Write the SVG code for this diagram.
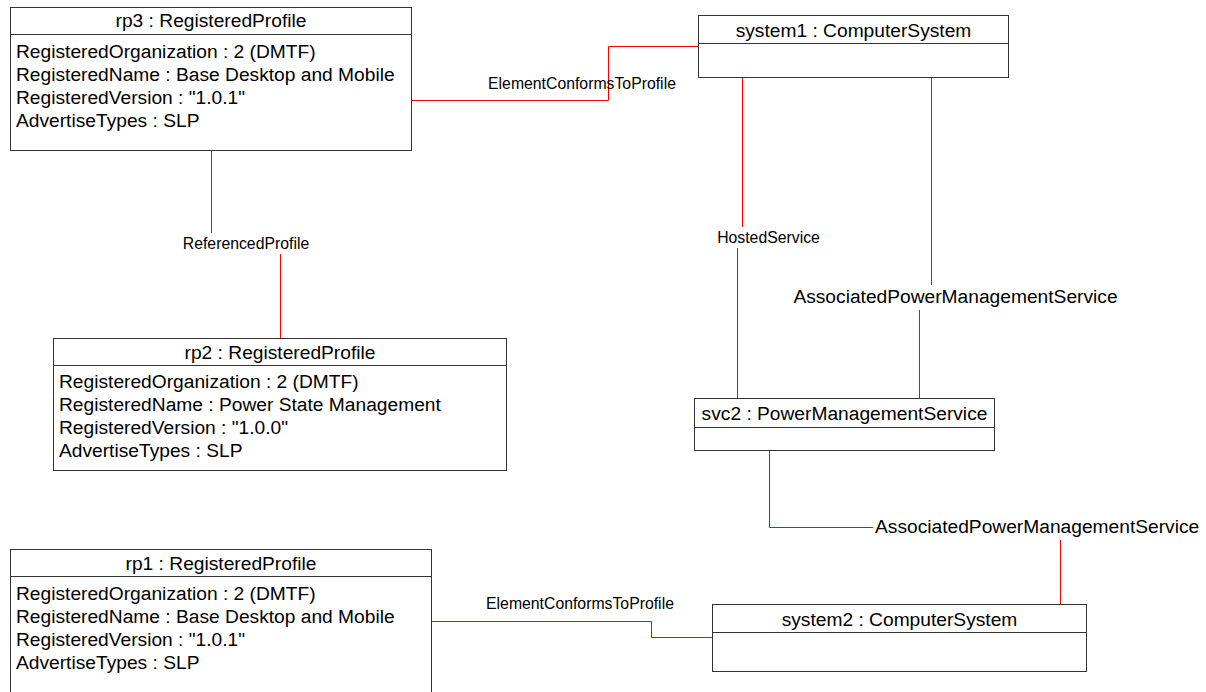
<svg xmlns="http://www.w3.org/2000/svg" width="1206" height="692" viewBox="0 0 1206 692">
<style>
.box{fill:#fff;stroke:#333;stroke-width:1}
.div{stroke:#333;stroke-width:1}
.t{font-family:"Liberation Sans",Arial,sans-serif;font-size:19.2px;fill:#000}
.c{text-anchor:middle}
.s{font-family:"Liberation Sans",Arial,sans-serif;font-size:15.8px;fill:#000}
.conn{fill:none;stroke:#ff0000;stroke-width:1}
</style>
<rect width="1206" height="692" fill="#fff"/>
<g id="connectors">
<polyline class="conn" points="412,100.5 608.5,100.5 608.5,46.5 698,46.5"/>
<text class="s c" x="582" y="89">ElementConformsToProfile</text>
<line class="conn" x1="211.5" y1="150.5" x2="211.5" y2="233"/>
<text class="s c" x="246" y="249">ReferencedProfile</text>
<line class="conn" x1="280.5" y1="254" x2="280.5" y2="338"/>
<line class="conn" x1="742.5" y1="78" x2="742.5" y2="227"/>
<text class="s c" x="768.5" y="243">HostedService</text>
<line class="conn" x1="737.5" y1="248" x2="737.5" y2="398"/>
<line class="conn" x1="931.5" y1="78" x2="931.5" y2="285"/>
<text class="t c" x="955.5" y="303">AssociatedPowerManagementService</text>
<line class="conn" x1="919.5" y1="310" x2="919.5" y2="398"/>
<polyline class="conn" points="769.5,451 769.5,527.5 873,527.5"/>
<text class="t" x="875" y="533">AssociatedPowerManagementService</text>
<line class="conn" x1="1060.5" y1="540" x2="1060.5" y2="604"/>
<polyline class="conn" points="432,621.5 651.5,621.5 651.5,637.5 712,637.5"/>
<text class="s c" x="580" y="609">ElementConformsToProfile</text>
</g>
<g id="rp3">
<rect class="box" x="10.5" y="7.5" width="401" height="143"/>
<line class="div" x1="10.5" y1="34.5" x2="411.5" y2="34.5"/>
<text class="t c" x="211" y="27">rp3 : RegisteredProfile</text>
<text class="t" x="16" y="58">RegisteredOrganization : 2 (DMTF)</text>
<text class="t" x="16" y="81">RegisteredName : Base Desktop and Mobile</text>
<text class="t" x="16" y="104">RegisteredVersion : "1.0.1"</text>
<text class="t" x="16" y="127">AdvertiseTypes : SLP</text>
</g>
<g id="system1">
<rect class="box" x="698.5" y="15.5" width="310" height="62"/>
<line class="div" x1="698.5" y1="43.5" x2="1008.5" y2="43.5"/>
<text class="t c" x="853.5" y="37">system1 : ComputerSystem</text>
</g>
<g id="rp2">
<rect class="box" x="53.5" y="338.5" width="453" height="132"/>
<line class="div" x1="53.5" y1="365.5" x2="506.5" y2="365.5"/>
<text class="t c" x="280" y="359">rp2 : RegisteredProfile</text>
<text class="t" x="59" y="388">RegisteredOrganization : 2 (DMTF)</text>
<text class="t" x="59" y="411">RegisteredName : Power State Management</text>
<text class="t" x="59" y="434">RegisteredVersion : "1.0.0"</text>
<text class="t" x="59" y="457">AdvertiseTypes : SLP</text>
</g>
<g id="svc2">
<rect class="box" x="694.5" y="398.5" width="300" height="52"/>
<line class="div" x1="694.5" y1="427.5" x2="994.5" y2="427.5"/>
<text class="t c" x="844.5" y="420">svc2 : PowerManagementService</text>
</g>
<g id="rp1">
<rect class="box" x="10.5" y="549.5" width="421" height="160"/>
<line class="div" x1="10.5" y1="576.5" x2="431.5" y2="576.5"/>
<text class="t c" x="221" y="570">rp1 : RegisteredProfile</text>
<text class="t" x="16" y="600">RegisteredOrganization : 2 (DMTF)</text>
<text class="t" x="16" y="623">RegisteredName : Base Desktop and Mobile</text>
<text class="t" x="16" y="646">RegisteredVersion : "1.0.1"</text>
<text class="t" x="16" y="669">AdvertiseTypes : SLP</text>
</g>
<g id="system2">
<rect class="box" x="712.5" y="604.5" width="374" height="67"/>
<line class="div" x1="712.5" y1="632.5" x2="1086.5" y2="632.5"/>
<text class="t c" x="899.5" y="626">system2 : ComputerSystem</text>
</g>
</svg>
